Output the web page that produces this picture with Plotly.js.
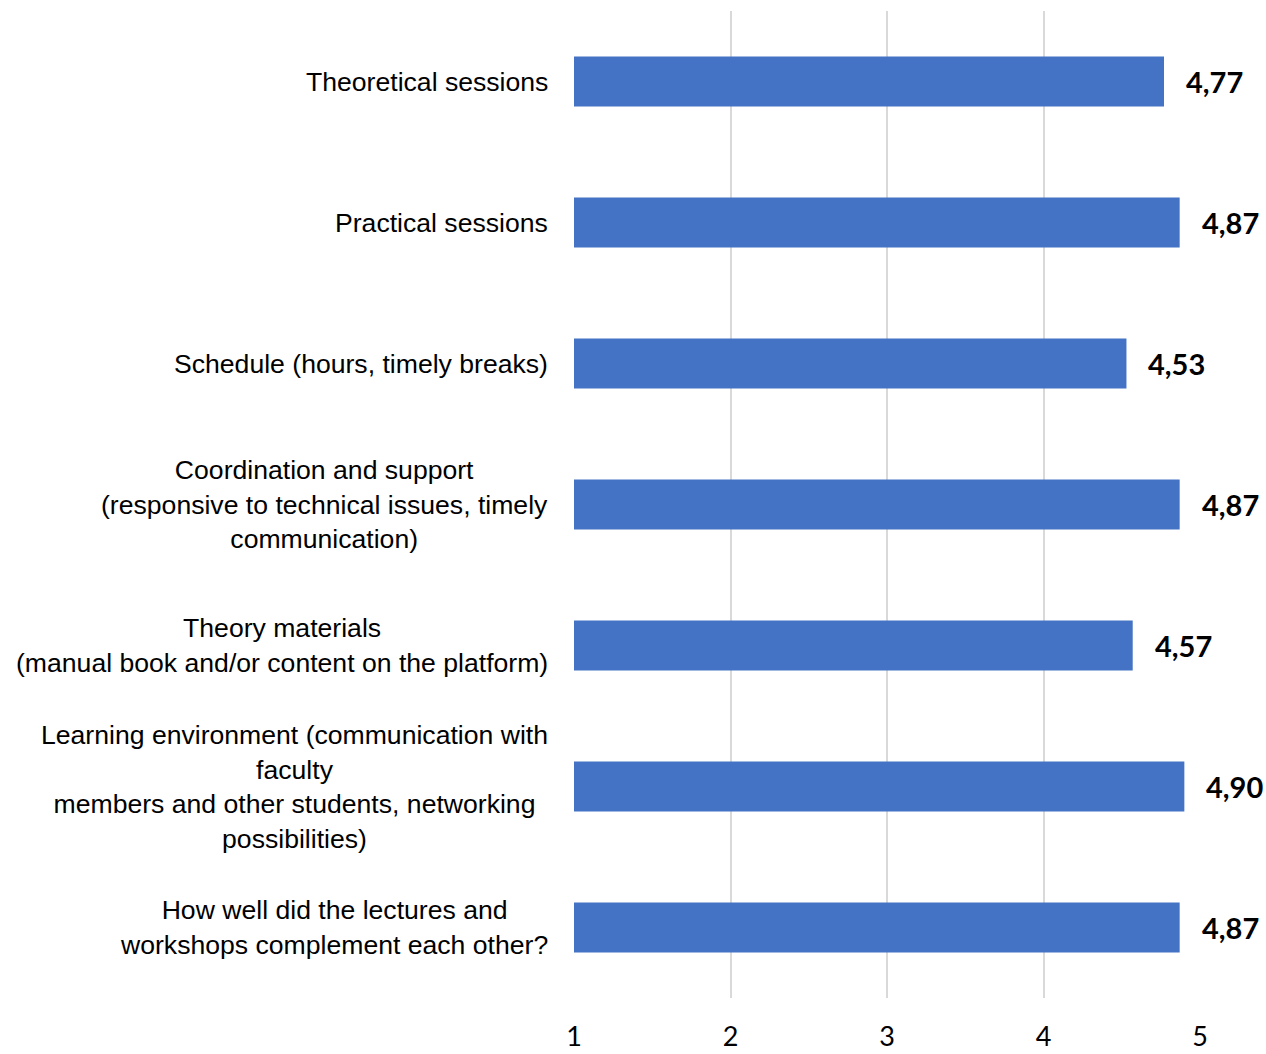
<!DOCTYPE html>
<html>
<head>
<meta charset="utf-8">
<script src="https://cdn.plot.ly/plotly-3.0.1.min.js"></script>
<style>
html,body{margin:0;padding:0;background:#fff;}
#chart{width:1266px;height:1054px;}
</style>
</head>
<body>
<div id="chart"></div>
<script>
const categories = [
  "Theoretical sessions",
  "Practical sessions",
  "Schedule (hours, timely breaks)",
  "Coordination and support<br>(responsive to technical issues, timely<br>communication)",
  "Theory materials<br>(manual book and/or content on the platform)",
  "Learning environment (communication with<br>faculty<br>members and other students, networking<br>possibilities)",
  "How well did the lectures and<br>workshops complement each other?"
];
const scores = [4.77, 4.87, 4.53, 4.87, 4.57, 4.90, 4.87];
const tickValues = [1, 2, 3, 4, 5];
const tickLabels = ["1", "2", "3", "4", "5"];

const ids = categories.map((c, i) => "c" + i);

const trace = {
  type: "bar",
  orientation: "h",
  y: ids,
  x: scores,
  marker: {color: "#4472C4"},
  hoverinfo: "none"
};

const annotations = [];
categories.forEach((c, i) => {
  annotations.push({
    xref: "paper", yref: "y", x: 0, y: ids[i],
    xanchor: "right", yanchor: "middle", xshift: -24,
    text: c, showarrow: false, align: "center",
    font: {family: "Liberation Sans, Arial, sans-serif", size: 26.6, color: "#000"}
  });
  annotations.push({
    xref: "x", yref: "y", x: scores[i], y: ids[i],
    xanchor: "left", yanchor: "middle", xshift: 20,
    text: "<b>" + scores[i].toFixed(2).replace(".", ",") + "</b>", showarrow: false,
    font: {family: "Lato, Open Sans, sans-serif", size: 29, color: "#000"}
  });
});

const layout = {
  width: 1266, height: 1054,
  margin: {l: 574, r: 66, t: 11, b: 56, pad: 0},
  paper_bgcolor: "#fff", plot_bgcolor: "#fff",
  showlegend: false,
  bargap: 0.645,
  xaxis: {
    range: [1, 5], tickvals: tickValues, ticktext: tickLabels,
    showgrid: true, gridcolor: "#d9d9d9", gridwidth: 2,
    zeroline: false, showline: false, ticks: "",
    ticklabelstandoff: 20,
    tickfont: {family: "Lato, Open Sans, sans-serif", size: 27, color: "#000"},
    fixedrange: true
  },
  yaxis: {
    autorange: "reversed", showticklabels: false, showgrid: false,
    zeroline: false, showline: false, ticks: "", fixedrange: true
  },
  annotations: annotations
};

Plotly.newPlot("chart", [trace], layout, {displayModeBar: false, staticPlot: true});
</script>
</body>
</html>
